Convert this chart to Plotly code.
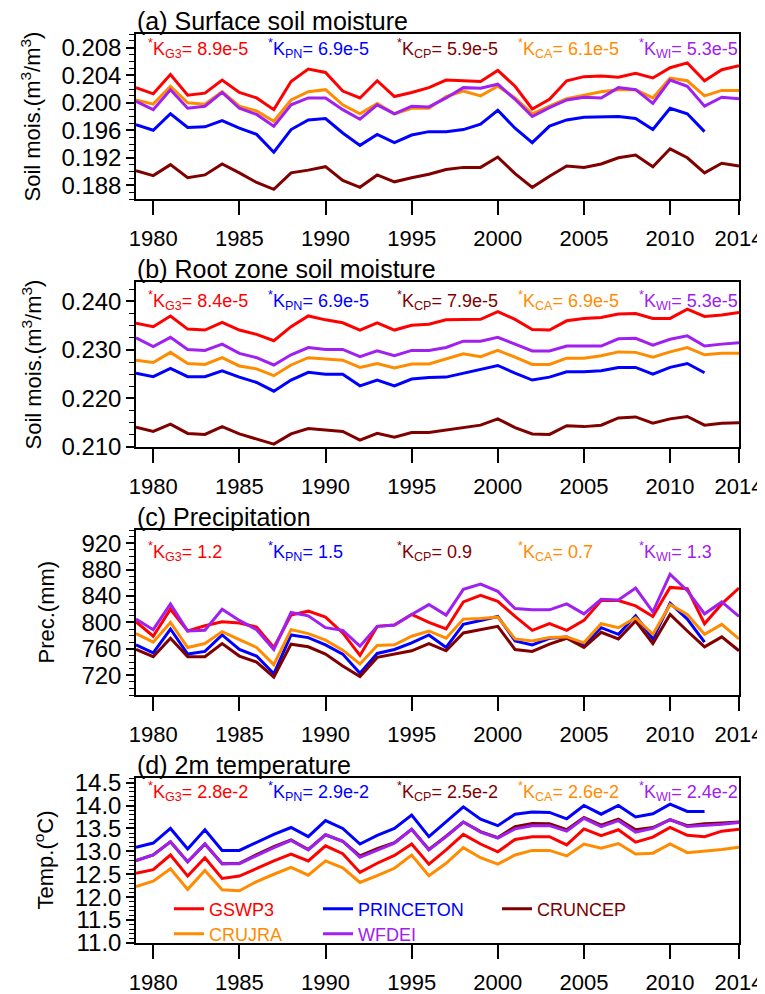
import plotly.graph_objects as go

# ---------------- data ----------------
years = list(range(1979, 2015))
years_pn = list(range(1979, 2013))
series_names = ["GSWP3", "PRINCETON", "CRUNCEP", "CRUJRA", "WFDEI"]
series_colors = ["#FF0000", "#0000FF", "#800000", "#FF8C00", "#A020F0"]

# (a) Surface soil moisture (m3/m3)
ssm_gswp3 = [0.2022, 0.2013, 0.2041, 0.2011, 0.2014, 0.2033, 0.2015, 0.2007, 0.1990, 0.2031,
             0.2049, 0.2044, 0.2017, 0.2007, 0.2032, 0.2009, 0.2015, 0.2022, 0.2033, 0.2032,
             0.2031, 0.2047, 0.2024, 0.1991, 0.2005, 0.2032, 0.2038, 0.2039, 0.2037, 0.2043,
             0.2036, 0.2051, 0.2058, 0.2032, 0.2048, 0.2054]
ssm_princeton = [0.1968, 0.1960, 0.1984, 0.1964, 0.1965, 0.1974, 0.1963, 0.1954, 0.1928, 0.1961,
                 0.1975, 0.1977, 0.1956, 0.1938, 0.1954, 0.1942, 0.1953, 0.1958, 0.1958, 0.1961,
                 0.1969, 0.1989, 0.1963, 0.1942, 0.1966, 0.1975, 0.1979, 0.1979, 0.1980, 0.1977,
                 0.1961, 0.1992, 0.1984, 0.1958]
ssm_cruncep = [0.1901, 0.1894, 0.1910, 0.1891, 0.1895, 0.1911, 0.1898, 0.1884, 0.1874, 0.1898,
               0.1902, 0.1907, 0.1887, 0.1877, 0.1895, 0.1885, 0.1891, 0.1896, 0.1903, 0.1906,
               0.1906, 0.1921, 0.1897, 0.1877, 0.1893, 0.1908, 0.1906, 0.1911, 0.1920, 0.1924,
               0.1907, 0.1933, 0.1920, 0.1898, 0.1912, 0.1908]
ssm_crujra = [0.2004, 0.1998, 0.2024, 0.2000, 0.1998, 0.2016, 0.1995, 0.1988, 0.1973, 0.2004,
              0.2016, 0.2019, 0.1997, 0.1984, 0.1999, 0.1984, 0.1992, 0.1992, 0.2009, 0.2017,
              0.2010, 0.2024, 0.2007, 0.1984, 0.1995, 0.2006, 0.2011, 0.2016, 0.2019, 0.2019,
              0.2007, 0.2036, 0.2032, 0.2010, 0.2018, 0.2018]
ssm_wfdei = [0.2002, 0.1990, 0.2019, 0.1992, 0.1995, 0.2015, 0.1992, 0.1983, 0.1966, 0.1997,
             0.2007, 0.2007, 0.1990, 0.1976, 0.1997, 0.1984, 0.1995, 0.1994, 0.2007, 0.2022,
             0.2021, 0.2027, 0.2005, 0.1980, 0.1993, 0.2004, 0.2008, 0.2007, 0.2022, 0.2019,
             0.1999, 0.2033, 0.2024, 0.1995, 0.2008, 0.2006]

# (b) Root zone soil moisture (m3/m3)
rzsm_gswp3 = [0.2355, 0.2348, 0.2370, 0.2343, 0.2341, 0.2357, 0.2341, 0.2332, 0.2319, 0.2348,
              0.2370, 0.2362, 0.2356, 0.2341, 0.2356, 0.2341, 0.2351, 0.2353, 0.2362, 0.2362,
              0.2363, 0.2379, 0.2363, 0.2342, 0.2341, 0.2360, 0.2365, 0.2367, 0.2374, 0.2375,
              0.2365, 0.2365, 0.2384, 0.2369, 0.2372, 0.2377]
rzsm_princeton = [0.2252, 0.2245, 0.2262, 0.2245, 0.2245, 0.2257, 0.2244, 0.2233, 0.2215, 0.2238,
                  0.2254, 0.2250, 0.2250, 0.2226, 0.2238, 0.2226, 0.2240, 0.2243, 0.2244, 0.2252,
                  0.2259, 0.2268, 0.2252, 0.2238, 0.2244, 0.2255, 0.2255, 0.2257, 0.2264, 0.2264,
                  0.2250, 0.2264, 0.2272, 0.2253]
rzsm_cruncep = [0.2141, 0.2132, 0.2147, 0.2128, 0.2126, 0.2142, 0.2127, 0.2116, 0.2106, 0.2127,
                0.2138, 0.2135, 0.2132, 0.2114, 0.2128, 0.2120, 0.2130, 0.2130, 0.2135, 0.2141,
                0.2145, 0.2158, 0.2140, 0.2127, 0.2126, 0.2144, 0.2142, 0.2145, 0.2160, 0.2162,
                0.2149, 0.2158, 0.2163, 0.2145, 0.2149, 0.2150]
rzsm_crujra = [0.2279, 0.2274, 0.2295, 0.2272, 0.2270, 0.2284, 0.2267, 0.2261, 0.2247, 0.2269,
               0.2284, 0.2281, 0.2279, 0.2264, 0.2272, 0.2263, 0.2271, 0.2271, 0.2281, 0.2292,
               0.2286, 0.2299, 0.2285, 0.2270, 0.2270, 0.2283, 0.2283, 0.2288, 0.2296, 0.2295,
               0.2285, 0.2296, 0.2305, 0.2290, 0.2293, 0.2293]
rzsm_wfdei = [0.2325, 0.2307, 0.2326, 0.2301, 0.2299, 0.2312, 0.2293, 0.2284, 0.2269, 0.2290,
              0.2305, 0.2301, 0.2301, 0.2286, 0.2298, 0.2288, 0.2299, 0.2299, 0.2305, 0.2318,
              0.2318, 0.2326, 0.2312, 0.2298, 0.2298, 0.2308, 0.2308, 0.2308, 0.2323, 0.2324,
              0.2310, 0.2322, 0.2329, 0.2308, 0.2312, 0.2315]

# (c) Precipitation (mm)
prec_gswp3 = [801, 779, 820, 787, 795, 801, 799, 793, 762, 811, 817, 808, 784, 750, 794, 796, 812, 800,
              790, 831, 841, 832, 809, 788, 798, 788, 803, 833, 833, 825, 809, 853, 851, 798, 828, 852]
prec_princeton = [766, 754, 790, 752, 756, 781, 759, 749, 722, 781, 777, 766, 752, 723, 753, 759, 769,
                  781, 762, 797, 803, 809, 772, 766, 776, 778, 766, 792, 782, 810, 775, 829, 805, 770]
prec_cruncep = [759, 748, 776, 748, 748, 768, 749, 740, 717, 767, 763, 752, 734, 718, 747, 752, 757, 768,
                757, 784, 789, 794, 759, 756, 767, 776, 762, 785, 775, 802, 768, 812, 787, 763, 778, 757]
prec_crujra = [783, 770, 800, 762, 768, 786, 774, 762, 736, 789, 783, 773, 758, 737, 765, 766, 779, 787,
               776, 805, 806, 808, 775, 772, 777, 778, 769, 798, 792, 807, 782, 827, 812, 782, 797, 775]
prec_wfdei = [805, 789, 828, 787, 788, 820, 803, 789, 759, 815, 810, 792, 788, 764, 794, 796, 812, 827,
              811, 850, 858, 847, 821, 819, 819, 828, 813, 835, 834, 852, 816, 873, 848, 813, 831, 809]

# (d) 2m temperature (degC)
temp_gswp3 = [12.52, 12.60, 12.92, 12.46, 12.86, 12.41, 12.46, 12.63, 12.79, 12.94, 12.79, 13.12,
              12.95, 12.54, 12.74, 12.91, 13.16, 12.72, 13.03, 13.37, 13.16, 12.99, 13.26, 13.32,
              13.32, 13.14, 13.49, 13.34, 13.47, 13.20, 13.31, 13.52, 13.35, 13.32, 13.44, 13.48]
temp_princeton = [13.09, 13.18, 13.50, 13.05, 13.47, 13.02, 13.02, 13.20, 13.37, 13.52, 13.32, 13.67,
                  13.50, 13.16, 13.35, 13.50, 13.79, 13.32, 13.65, 13.97, 13.70, 13.56, 13.81, 13.86,
                  13.85, 13.71, 14.00, 13.81, 14.00, 13.75, 13.82, 14.03, 13.87, 13.87]
temp_cruncep = [12.80, 12.92, 13.21, 12.77, 13.16, 12.73, 12.74, 12.93, 13.10, 13.25, 13.04, 13.36,
                13.22, 12.90, 13.06, 13.19, 13.48, 13.04, 13.33, 13.64, 13.43, 13.30, 13.54, 13.61,
                13.60, 13.47, 13.74, 13.57, 13.70, 13.47, 13.52, 13.69, 13.56, 13.60, 13.62, 13.64]
temp_crujra = [12.23, 12.35, 12.62, 12.17, 12.58, 12.16, 12.14, 12.34, 12.50, 12.65, 12.48, 12.79,
               12.64, 12.32, 12.47, 12.63, 12.92, 12.47, 12.74, 13.08, 12.86, 12.72, 12.92, 13.02,
               13.02, 12.90, 13.16, 13.07, 13.17, 12.94, 12.96, 13.16, 12.97, 13.00, 13.04, 13.09]
temp_wfdei = [12.80, 12.92, 13.21, 12.77, 13.16, 12.73, 12.73, 12.91, 13.08, 13.24, 13.03, 13.36,
              13.22, 12.87, 13.03, 13.18, 13.48, 13.03, 13.32, 13.64, 13.42, 13.29, 13.49, 13.56,
              13.56, 13.44, 13.72, 13.54, 13.67, 13.42, 13.50, 13.69, 13.54, 13.56, 13.59, 13.63]

# trend labels (K values)
k_keys = ["G3", "PN", "CP", "CA", "WI"]
k_ssm = ["8.9e-5", "6.9e-5", "5.9e-5", "6.1e-5", "5.3e-5"]
k_rzsm = ["8.4e-5", "6.9e-5", "7.9e-5", "6.9e-5", "5.3e-5"]
k_prec = ["1.2", "1.5", "0.9", "0.7", "1.3"]
k_temp = ["2.8e-2", "2.9e-2", "2.5e-2", "2.6e-2", "2.4e-2"]

panel_titles = ["(a) Surface soil moisture", "(b) Root zone soil moisture",
                "(c) Precipitation", "(d) 2m temperature"]
y_titles = ["Soil mois.(m<sup>3</sup>/m<sup>3</sup>)", "Soil mois.(m<sup>3</sup>/m<sup>3</sup>)",
            "Prec.(mm)", "Temp.(<sup>o</sup>C)"]

x_tickvals = [1980, 1985, 1990, 1995, 2000, 2005, 2010, 2014]
y_tickvals_a = [0.188, 0.192, 0.196, 0.200, 0.204, 0.208]
y_tickvals_b = [0.210, 0.220, 0.230, 0.240]
y_tickvals_c = [720, 760, 800, 840, 880, 920]
y_tickvals_d = [11.0, 11.5, 12.0, 12.5, 13.0, 13.5, 14.0, 14.5]

# ---------------- layout helpers ----------------
OFF = 8                               # the page body keeps an 8 px margin
W, H = 765 - OFF, 994 - OFF
FONT = "Liberation Sans, Arial, Helvetica, sans-serif"
xl, xr = 136, 739                                         # page px
frames = [(34, 199), (282, 447), (530, 695), (778, 943)]  # top, bottom in page px
y_ranges = [[0.186, 0.210], [0.210, 0.244], [690, 940], [11.0, 14.6]]
y_ticks = [y_tickvals_a, y_tickvals_b, y_tickvals_c, y_tickvals_d]
y_formats = [".3f", ".3f", "d", ".1f"]
y_minor = [0.001, 0.0025, 10, 0.1]
k_offsets = [14, 19, 21, 13]
k_xpx = [146, 266, 395, 516, 637]
ytitle_x = [31, 31, 46, 43]

panel_data = [
    [ssm_gswp3, ssm_princeton, ssm_cruncep, ssm_crujra, ssm_wfdei],
    [rzsm_gswp3, rzsm_princeton, rzsm_cruncep, rzsm_crujra, rzsm_wfdei],
    [prec_gswp3, prec_princeton, prec_cruncep, prec_crujra, prec_wfdei],
    [temp_gswp3, temp_princeton, temp_cruncep, temp_crujra, temp_wfdei],
]
panel_k = [k_ssm, k_rzsm, k_prec, k_temp]


def px_x(p):
    return (p - OFF) / W


def px_y(p):
    return 1 - (p - OFF) / H


fig = go.Figure()
legend_ids = ["legend", "legend2", "legend3", "legend4", "legend5"]

for pi in range(4):
    suffix = "" if pi == 0 else str(pi + 1)
    for si in range(5):
        xs = years_pn if si == 1 else years
        fig.add_trace(go.Scatter(
            x=xs, y=panel_data[pi][si], mode="lines", name=series_names[si],
            line=dict(color=series_colors[si], width=3),
            xaxis="x" + suffix, yaxis="y" + suffix,
            showlegend=(pi == 3), legend=legend_ids[si],
        ))

annotations = []
for pi in range(4):
    top, bot = frames[pi]
    suffix = "" if pi == 0 else str(pi + 1)
    fig.layout["xaxis" + suffix] = dict(
        domain=[px_x(xl), px_x(xr)], range=[1979, 2014], anchor="y" + suffix,
        tickvals=x_tickvals, ticks="outside", ticklen=14, tickwidth=1.5, tickcolor="black",
        showline=True, linecolor="black", linewidth=1.5, mirror=True, automargin=False,
        showgrid=False, zeroline=False, ticklabelstandoff=5, ticklabeloverflow="allow",
        tickfont=dict(family=FONT, size=22, color="black"),
    )
    fig.layout["yaxis" + suffix] = dict(
        domain=[px_y(bot), px_y(top)], range=y_ranges[pi], anchor="x" + suffix,
        tickvals=y_ticks[pi], tickformat=y_formats[pi], ticks="outside", ticklen=8,
        tickwidth=1.5, tickcolor="black", automargin=False,
        minor=dict(dtick=y_minor[pi], tick0=y_ranges[pi][0], ticks="outside", ticklen=5,
                   tickwidth=1, tickcolor="black"),
        showline=True, linecolor="black", linewidth=1.5, mirror=True,
        showgrid=False, zeroline=False,
        tickfont=dict(family=FONT, size=24, color="black"),
    )
    # panel title
    annotations.append(dict(
        text=panel_titles[pi], x=px_x(xl), y=px_y(top), xref="paper", yref="paper",
        xanchor="left", yanchor="bottom", yshift=-3, xshift=-1, showarrow=False,
        font=dict(family=FONT, size=25, color="black"),
    ))
    # y axis title
    annotations.append(dict(
        text=y_titles[pi], x=px_x(ytitle_x[pi]), y=px_y((top + bot) / 2), xref="paper",
        yref="paper", xanchor="center", yanchor="middle", textangle=-90, showarrow=False,
        font=dict(family=FONT, size=22, color="black"),
    ))
    # trend labels
    for si in range(5):
        annotations.append(dict(
            text="<sup>*</sup>K<sub>%s</sub>= %s" % (k_keys[si], panel_k[pi][si]),
            x=px_x(k_xpx[si]), y=px_y(top + k_offsets[pi]), xref="paper", yref="paper",
            xanchor="left", yanchor="middle", showarrow=False,
            font=dict(family=FONT, size=18, color=series_colors[si]),
        ))

# legends inside panel (d)
leg_text_x = [209, 358, 537, 209, 358]
leg_row_y = [909, 909, 909, 934, 934]
for si in range(5):
    fig.layout[legend_ids[si]] = dict(
        x=px_x(leg_text_x[si] - 40), y=px_y(leg_row_y[si]), xanchor="left", yanchor="middle",
        bgcolor="rgba(0,0,0,0)", borderwidth=0,
        font=dict(family=FONT, size=18, color=series_colors[si]),
        itemwidth=30,
    )

fig.update_layout(
    width=W, height=H, margin=dict(l=0, r=0, t=0, b=0, autoexpand=False),
    paper_bgcolor="white", plot_bgcolor="white",
    annotations=annotations,
)

fig.write_html("out.html")
